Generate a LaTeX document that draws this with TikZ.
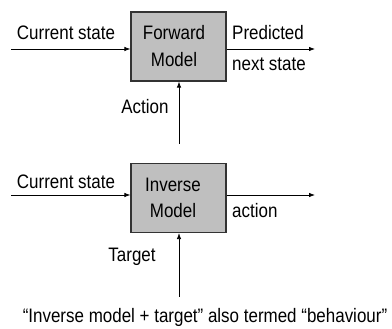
\documentclass[tikz,border=0pt]{standalone}
\usepackage{fontspec}
\setmainfont{Liberation Sans}[FakeStretch=0.87]
\usetikzlibrary{arrows.meta}
\begin{document}
\begin{tikzpicture}[x=1pt,y=-1pt,
  every node/.style={font=\fontsize{19.5}{22}\selectfont, inner sep=0pt},
  model/.style={draw=black!80, line width=1.2pt, fill=black!25, minimum width=95pt, minimum height=69pt, align=center},
  flow/.style={line width=0.8pt, -{Latex[length=6pt,width=4.5pt]}}]
\useasboundingbox (0,0) rectangle (392,329);
\fill[white] (0,0) rectangle (392,329);

% forward model
\node[model] (fwd) at (178.5,46.5) {};
\node (fwdA) at (174,33) {Forward};
\node (fwdB) at (174,60) {Model};
\coordinate (fin) at (11,49);
\coordinate (fout) at (315,49);
\coordinate (fact) at (179,144);
\draw[flow] (fin) -- (fin -| fwd.west);
\draw[flow] (fwd.east |- fout) -- (fout);
\draw[flow] (fact) -- (fact |- fwd.south);
\node (cs1) at (66,33) {Current state};
\node[anchor=west] (pred) at (232,33) {Predicted};
\node[anchor=west] (nxt) at (232,64) {next state};
\node (act) at (145,107) {Action};

% inverse model
\node[model] (inv) at (178.5,198) {};
\node (invA) at (173,185) {Inverse};
\node (invB) at (173,211) {Model};
\coordinate (iin) at (11,195);
\coordinate (iout) at (315,195);
\coordinate (itgt) at (179,297);
\draw[flow] (iin) -- (iin -| inv.west);
\draw[flow] (inv.east |- iout) -- (iout);
\draw[flow] (itgt) -- (itgt |- inv.south);
\node (cs2) at (66,182) {Current state};
\node[anchor=west] (iact) at (232,211) {action};
\node (tgt) at (132,257) {Target};

\node (note) at (205,317) {“Inverse model + target” also termed “behaviour”};
\end{tikzpicture}
\end{document}
